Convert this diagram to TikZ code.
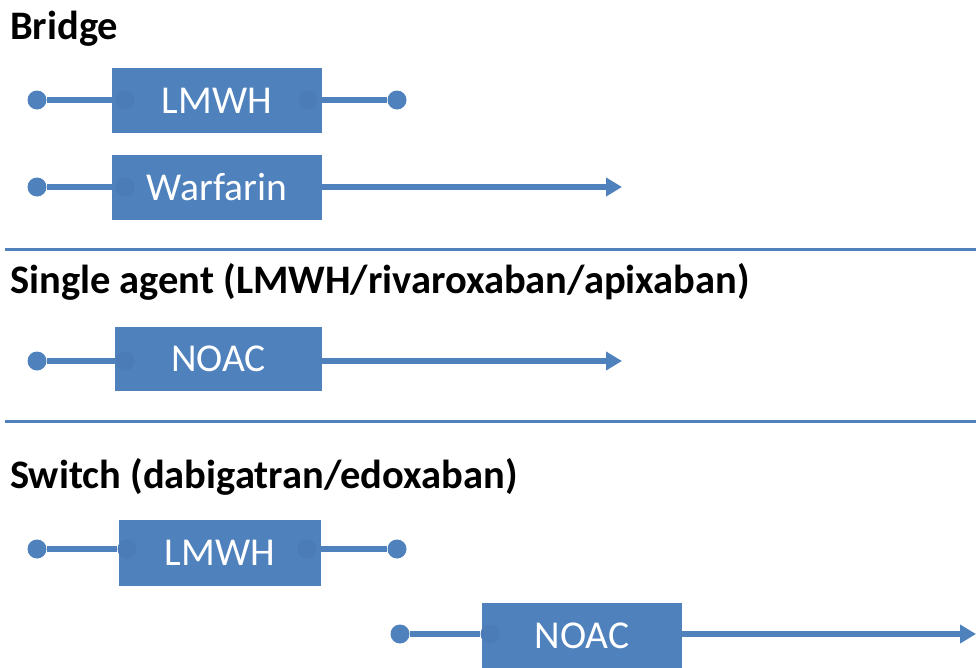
\documentclass[tikz,border=0pt]{standalone}
\usepackage{fontspec}
\setmainfont{Carlito}
\usetikzlibrary{arrows.meta,backgrounds}
\definecolor{obl}{HTML}{4F81BD}
\definecolor{obd}{HTML}{4B7CB8}
\begin{document}
\begin{tikzpicture}[x=1pt,y=-1pt,
 bar/.style={fill=obl, draw=none, text=white, font=\fontsize{39.5}{42}\selectfont, inner sep=0pt},
 hd/.style={anchor=base west, font=\fontsize{40.5}{44}\selectfont\bfseries, inner sep=0pt},
 dot/.style={circle, fill=obl, minimum size=19pt, inner sep=0pt},
 ghost/.style={circle, fill=obd, minimum size=19pt, inner sep=0pt},
 conn/.style={draw=obl, line width=5.5pt},
 arr/.style={conn, -{Triangle[length=16pt,width=18pt]}},
 sep/.style={draw=obl, line width=3pt}]
\useasboundingbox (0,0) rectangle (976,667);

% headings
\node[hd] (h1) at (10,39) {Bridge};
\node[hd] (h2) at (10,293) {Single agent (LMWH/rivaroxaban/apixaban)};
\node[hd] (h3) at (10,488) {Switch (dabigatran/edoxaban)};

% separators
\coordinate (s1a) at (5,249); \coordinate (s1b) at (976,249);
\coordinate (s2a) at (5,421); \coordinate (s2b) at (976,421);
\draw[sep] (s1a) -- (s1b);
\draw[sep] (s2a) -- (s2b);

% boxes
\node[bar, minimum width=210, minimum height=65] (lm1) at (217,100.5) {LMWH};
\node[bar, minimum width=210, minimum height=65] (wf) at (217,187.5) {Warfarin};
\node[bar, minimum width=207, minimum height=64] (no1) at (218.5,359) {NOAC};
\node[bar, minimum width=202, minimum height=66] (lm2) at (220,553) {LMWH};
\node[bar, minimum width=200, minimum height=66] (no2) at (582,636) {NOAC};

% dots
\node[dot] (a1) at (37,100) {};
\node[dot] (a2) at (397,100) {};
\node[dot] (b1) at (37,187) {};
\node[dot] (c1) at (37,361) {};
\node[dot] (d1) at (37,549) {};
\node[dot] (d2) at (397,549) {};
\node[dot] (e1) at (400,634) {};

% dots hidden under the boxes
\node[ghost] (ga1) at (125,100) {};
\node[ghost] (ga2) at (308,100) {};
\node[ghost] (gb1) at (125,187) {};
\node[ghost] (gc1) at (125,361) {};
\node[ghost] (gd1) at (127,549) {};
\node[ghost] (gd2) at (307,549) {};
\node[ghost] (ge1) at (490,634) {};

\coordinate (gb2) at (307,187);
\coordinate (gc2) at (307,361);
\coordinate (ge2) at (668,634);
\coordinate (tb) at (622,187);
\coordinate (tc) at (622,361);
\coordinate (te) at (976,634);

\begin{scope}[on background layer]
\draw[conn] (a1) -- (ga1);
\draw[conn] (ga2) -- (a2);
\draw[conn] (b1) -- (gb1);
\draw[arr] (gb2) -- (tb);
\draw[conn] (c1) -- (gc1);
\draw[arr] (gc2) -- (tc);
\draw[conn] (d1) -- (gd1);
\draw[conn] (gd2) -- (d2);
\draw[conn] (e1) -- (ge1);
\draw[arr] (ge2) -- (te);
\end{scope}
\end{tikzpicture}
\end{document}
